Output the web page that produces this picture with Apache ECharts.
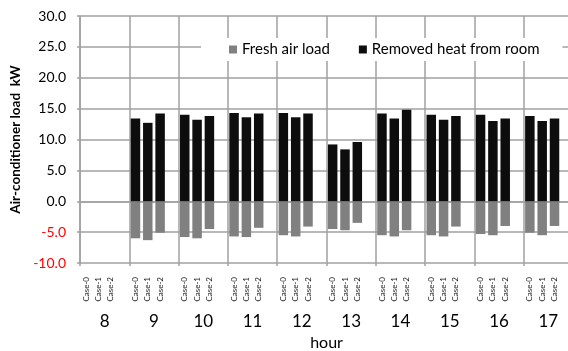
<!DOCTYPE html>
<html><head><meta charset="utf-8">
<script src="https://cdn.jsdelivr.net/npm/echarts@6/dist/echarts.min.js"></script>
<style>html,body{margin:0;padding:0;background:#fff}#c{width:568px;height:351px}</style>
</head><body><div id="c"></div>
<script>
const hours = ['8','9','10','11','12','13','14','15','16','17'];
const cases = ['Case-0','Case-1','Case-2'];
const removedHeat = [
  [null,null,null],
  [13.4,12.7,14.2],
  [14.0,13.2,13.8],
  [14.3,13.6,14.2],
  [14.3,13.6,14.2],
  [9.2,8.4,9.6],
  [14.2,13.4,14.8],
  [14.0,13.2,13.8],
  [14.0,13.0,13.4],
  [13.8,13.0,13.4]
];
const freshAir = [
  [null,null,null],
  [-6.0,-6.3,-5.1],
  [-5.8,-6.0,-4.5],
  [-5.7,-5.8,-4.3],
  [-5.5,-5.7,-4.1],
  [-4.5,-4.7,-3.5],
  [-5.5,-5.7,-4.7],
  [-5.5,-5.7,-4.1],
  [-5.3,-5.5,-4.0],
  [-5.1,-5.5,-4.0]
];
const yTicks = {min:-10, max:30, interval:5};

const cats = [], heatData = [], freshData = [];
hours.forEach((h, i) => {
  cases.forEach((c, j) => {
    cats.push(c);
    heatData.push(removedHeat[i][j]);
    freshData.push(freshAir[i][j]);
  });
  cats.push('');
  heatData.push(null);
  freshData.push(null);
});

const FONT = 'Lato';
const GRID = '#a0a0a0';
const chart = echarts.init(document.getElementById('c'));
chart.setOption({
  animation: false,
  textStyle: {fontFamily: FONT},
  grid: {left: 80, right: -5, top: 16, bottom: 88, containLabel: false, outerBoundsMode: 'none'},
  legend: {
    left: 201, top: 38,
    backgroundColor: '#fff',
    padding: [4, 23, 4, 28],
    itemWidth: 8, itemHeight: 8, itemGap: 29,
    icon: 'rect',
    textStyle: {fontFamily: FONT, fontSize: 15, color: '#000'},
    data: ['Fresh air load', 'Removed heat from room']
  },
  xAxis: [
    {
      type: 'category', data: cats, position: 'bottom',
      axisLine: {show: true, lineStyle: {color: GRID, width: 1.5}},
      axisTick: {show: false},
      splitLine: {show: false},
      axisLabel: {interval: 0, rotate: 90, fontSize: 8, margin: 14, color: '#222', fontFamily: FONT}
    },
    {
      type: 'category', data: hours, position: 'bottom',
      axisLine: {show: false},
      axisTick: {show: true, length: 3, lineStyle: {color: GRID, width: 1.5}},
      splitLine: {show: true, lineStyle: {color: GRID, width: 1.5}},
      axisLabel: {interval: 0, fontSize: 17, margin: 50, color: '#000', fontFamily: FONT},
      name: 'hour', nameLocation: 'middle', nameGap: 70,
      nameTextStyle: {fontSize: 16, color: '#000', fontFamily: FONT}
    }
  ],
  yAxis: {
    type: 'value', min: yTicks.min, max: yTicks.max, interval: yTicks.interval,
    axisLine: {show: true, lineStyle: {color: GRID, width: 1.5}},
    axisTick: {show: true, length: 3, lineStyle: {color: GRID, width: 1.5}},
    splitLine: {show: true, lineStyle: {color: GRID, width: 1.5}},
    axisLabel: {
      fontSize: 14, margin: 14, fontFamily: FONT,
      formatter: v => v.toFixed(1),
      color: v => (Number(v) < 0 ? '#ff0000' : '#000')
    },
    name: 'Air-conditioner load  kW', nameLocation: 'middle', nameGap: 50,
    nameTextStyle: {fontSize: 13.5, fontWeight: 'bold', color: '#000', fontFamily: FONT}
  },
  series: [
    {
      name: 'Fresh air load', type: 'bar', stack: 'load', xAxisIndex: 0,
      data: freshData, barCategoryGap: '23%',
      itemStyle: {color: '#808080'}
    },
    {
      name: 'Removed heat from room', type: 'bar', stack: 'load', xAxisIndex: 0,
      data: heatData, barCategoryGap: '23%',
      itemStyle: {color: '#0d0d0d'}
    }
  ]
});
</script></body></html>
